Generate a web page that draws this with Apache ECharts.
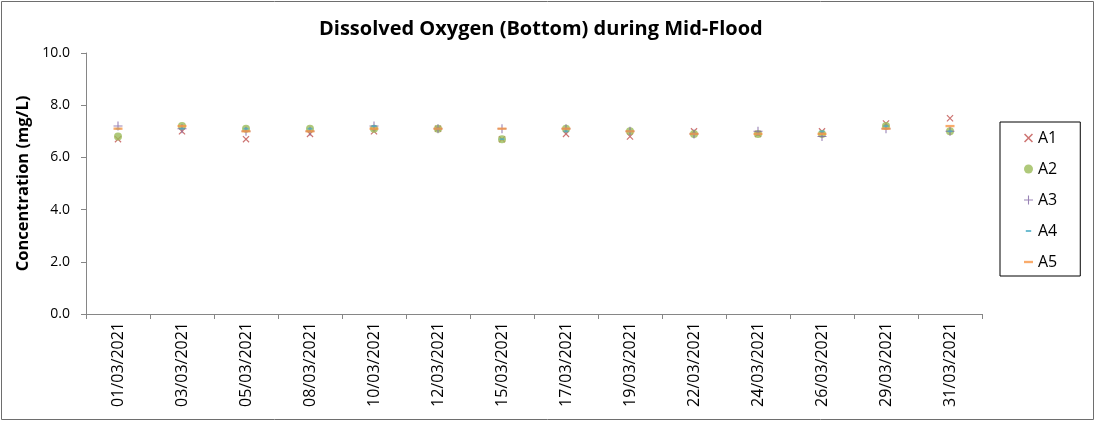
<!DOCTYPE html>
<html>
<head>
<meta charset="utf-8">
<script src="https://cdn.jsdelivr.net/npm/echarts@6/dist/echarts.min.js"></script>
<style>
  html, body { margin: 0; padding: 0; background: #fff; }
  #chart { width: 1096px; height: 422px; }
</style>
</head>
<body>
<div id="chart"></div>
<script>
  // sampling dates
  const dates = ['01/03/2021', '03/03/2021', '05/03/2021', '08/03/2021', '10/03/2021', '12/03/2021', '15/03/2021',
    '17/03/2021', '19/03/2021', '22/03/2021', '24/03/2021', '26/03/2021', '29/03/2021', '31/03/2021']
  // bottom DO (mg/L) per station
  const a1 = [6.7, 7.0, 6.7, 6.9, 7.0, 7.1, 6.7, 6.9, 6.8, 7.0, 6.9, 7.0, 7.3, 7.5]
  const a2 = [6.8, 7.2, 7.1, 7.1, 7.1, 7.1, 6.7, 7.1, 7.0, 6.9, 6.9, 6.9, 7.2, 7.0]
  const a3 = [7.2, 7.1, 7.0, 7.0, 7.2, 7.1, 7.1, 7.1, 7.0, 6.9, 7.0, 6.8, 7.1, 7.0]
  const a4 = [7.1, 7.1, 7.1, 7.1, 7.2, 7.1, 6.7, 7.0, 7.0, 6.9, 6.9, 7.0, 7.2, 7.0]
  const a5 = [7.1, 7.2, 7.0, 7.0, 7.1, 7.1, 7.1, 7.1, 7.0, 6.9, 6.9, 6.9, 7.1, 7.2]
  const yTicks = [0, 2, 4, 6, 8, 10]

  // marker shapes, all in a 10x10 box so legend + series scale the same
  const xMark = 'path://M0,0 M10,10 M0,1.2 L1.2,0 L10,8.8 L8.8,10 Z M8.8,0 L10,1.2 L1.2,10 L0,8.8 Z'
  const plusMark = 'path://M0,0 M10,10 M0,4.4 H10 V5.6 H0 Z M4.4,0 H5.6 V10 H4.4 Z'
  const shortDash = 'path://M0,0 M10,10 M2,3.9 H8 V6.1 H2 Z'
  const longDash = 'path://M0,0 M10,10 M0,3.7 H10 V6.3 H0 Z'

  const font = 'Open Sans, Liberation Sans, sans-serif'

  function station(name, data, symbol, size, color) {
    return {
      name: name,
      type: 'scatter',
      data: data,
      symbol: symbol,
      symbolSize: size,
      itemStyle: { color: color, opacity: 0.8 },
      emphasis: { disabled: true }
    }
  }

  const chart = echarts.init(document.getElementById('chart'))
  chart.setOption({
    animation: false,
    textStyle: { fontFamily: font },
    title: {
      text: 'Dissolved Oxygen (Bottom) during Mid-Flood',
      left: 314,
      top: 14,
      textStyle: { fontSize: 20, fontWeight: 'bold', color: '#000', fontFamily: font }
    },
    graphic: [{
      type: 'rect',
      shape: { x: 1.5, y: 1.5, width: 1092, height: 418 },
      style: { fill: 'none', stroke: '#6e6e6e', lineWidth: 1 },
      silent: true
    }],
    legend: {
      orient: 'vertical',
      left: 1000,
      top: 122,
      padding: [5, 23, 3, 24],
      itemWidth: 9,
      itemHeight: 9,
      itemGap: 9,
      borderColor: '#000',
      borderWidth: 1,
      textStyle: { fontSize: 16, color: '#000', fontFamily: font, lineHeight: 22 },
      data: [
        { name: 'A1', icon: xMark },
        { name: 'A2', icon: 'circle' },
        { name: 'A3', icon: plusMark },
        { name: 'A4', icon: shortDash },
        { name: 'A5', icon: longDash }
      ]
    },
    grid: { left: 86, right: 114, top: 53, bottom: 108 },
    xAxis: {
      type: 'category',
      data: dates,
      boundaryGap: true,
      axisLine: { lineStyle: { color: '#868686' } },
      axisTick: { show: true, length: 5, lineStyle: { color: '#868686' } },
      axisLabel: { rotate: 90, fontSize: 16, color: '#000', margin: 8, fontFamily: font },
      splitLine: { show: false }
    },
    yAxis: {
      type: 'value',
      min: yTicks[0],
      max: yTicks[yTicks.length - 1],
      interval: 2,
      name: 'Concentration (mg/L)',
      nameLocation: 'middle',
      nameGap: 43,
      nameTextStyle: { fontSize: 16.5, fontWeight: 'bold', color: '#000', fontFamily: font },
      axisLine: { show: true, lineStyle: { color: '#868686' } },
      axisTick: { show: true, length: 5, lineStyle: { color: '#868686' } },
      axisLabel: { fontSize: 14, color: '#000', margin: 16, formatter: v => v.toFixed(1), fontFamily: font },
      splitLine: { show: false }
    },
    series: [
      station('A1', a1, xMark, 7, '#c0504d'),
      station('A2', a2, 'circle', 8, '#9bbb59'),
      station('A3', a3, plusMark, 9, '#8064a2'),
      station('A4', a4, shortDash, 8, '#4bacc6'),
      station('A5', a5, longDash, 9, '#f79646')
    ]
  })
</script>
</body>
</html>
